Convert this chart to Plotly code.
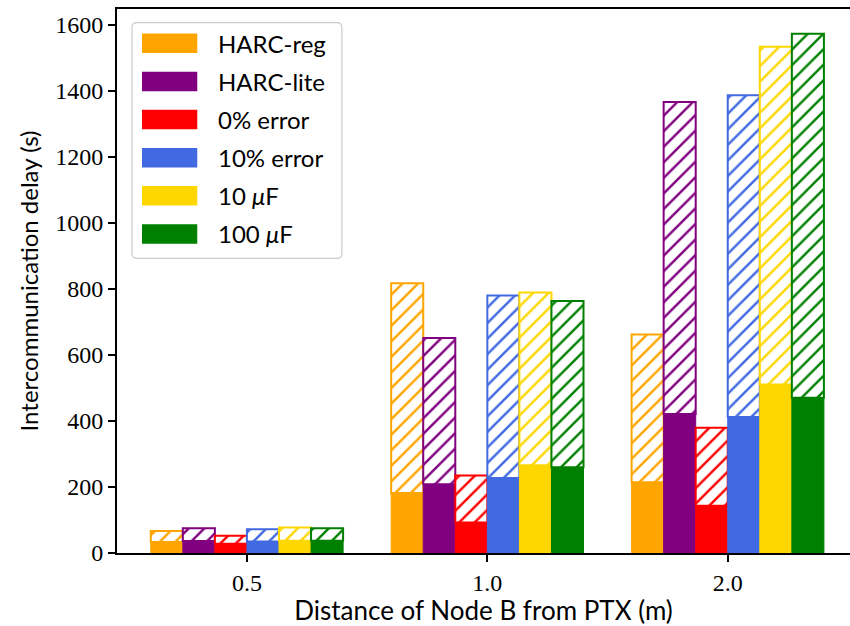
import plotly.graph_objects as go

categories = ["0.5", "1.0", "2.0"]
series_names = ["HARC-reg", "HARC-lite", "0% error", "10% error", "10 <i>μ</i>F", "100 <i>μ</i>F"]
colors = ["orange", "purple", "red", "royalblue", "gold", "green"]

# lower (solid) part of each bar
solid_values = [
    [33, 182, 214],
    [36, 208, 421],
    [28, 92, 143],
    [35, 227, 412],
    [37, 266, 510],
    [37, 260, 470],
]
# total height of each bar (top of hatched part)
total_values = [
    [67, 817, 662],
    [75, 651, 1366],
    [52, 235, 379],
    [72, 780, 1386],
    [77, 789, 1533],
    [75, 763, 1573],
]

y_ticks = [0, 200, 400, 600, 800, 1000, 1200, 1400, 1600]

fig = go.Figure()
for i, name in enumerate(series_names):
    c = colors[i]
    solid = solid_values[i]
    total = total_values[i]
    hatched = [t - s for t, s in zip(total, solid)]
    fig.add_trace(go.Bar(
        x=categories, y=solid, name=name, offsetgroup=str(i),
        marker=dict(color=c, line=dict(color=c, width=1)),
        showlegend=False,
    ))
    fig.add_trace(go.Bar(
        x=categories, y=hatched, base=solid, offsetgroup=str(i),
        marker=dict(
            color="white",
            line=dict(color=c, width=2),
            pattern=dict(shape="/", fgcolor=c, bgcolor="white", size=11,
                         solidity=0.22, fgopacity=1, fillmode="replace"),
        ),
        showlegend=False,
    ))

# manual legend (pixel -> paper coordinates of the plot area)
L, R_, T, B = 116.7, 850, 9, 552.7
W, H = R_ - L, B - T
def px(x):
    return (x - L) / W
def py(y):
    return (B - y) / H

x0, x1, y0, y1, r = 131.7, 341.7, 22.7, 258.3, 5
path = (f"M {px(x0 + r)},{py(y0)} L {px(x1 - r)},{py(y0)} Q {px(x1)},{py(y0)} {px(x1)},{py(y0 + r)} "
        f"L {px(x1)},{py(y1 - r)} Q {px(x1)},{py(y1)} {px(x1 - r)},{py(y1)} "
        f"L {px(x0 + r)},{py(y1)} Q {px(x0)},{py(y1)} {px(x0)},{py(y1 - r)} "
        f"L {px(x0)},{py(y0 + r)} Q {px(x0)},{py(y0)} {px(x0 + r)},{py(y0)} Z")
shapes = [dict(type="path", xref="paper", yref="paper", path=path,
               line=dict(color="#cccccc", width=1.2), fillcolor="rgba(255,255,255,0.8)")]
annotations = []
for i, name in enumerate(series_names):
    yc = 43.3 + 38.1 * i
    shapes.append(dict(type="rect", xref="paper", yref="paper",
                       x0=px(141.7), x1=px(197), y0=py(yc - 9.7), y1=py(yc + 9.7),
                       fillcolor=colors[i], line=dict(width=0)))
    annotations.append(dict(xref="paper", yref="paper", x=px(216), y=py(yc),
                            text=name, showarrow=False, xanchor="left", yanchor="middle",
                            font=dict(family="Lato, DejaVu Sans, sans-serif", size=24, color="black")))

fig.update_layout(
    width=850, height=626,
    margin=dict(l=117, r=0, t=9, b=73),
    paper_bgcolor="white", plot_bgcolor="white",
    barmode="group", bargap=0.2, bargroupgap=0,
    showlegend=False,
    shapes=shapes, annotations=annotations,
)
fig.update_xaxes(
    type="category", range=[-0.5405, 2.5085],
    showline=True, linecolor="black", linewidth=1.8, mirror=True,
    ticks="outside", ticklen=7, tickwidth=1.8, tickcolor="black",
    tickfont=dict(family="Liberation Serif, serif", size=24, color="black"),
    title=dict(text="Distance of Node B from PTX (m)",
               font=dict(family="Lato, DejaVu Sans, sans-serif", size=26, color="black"), standoff=8),
    showgrid=False,
)
fig.update_yaxes(
    range=[0, 1647.6], tickvals=y_ticks,
    showline=True, linecolor="black", linewidth=1.8, mirror=False,
    ticks="outside", ticklen=7, tickwidth=1.8, tickcolor="black",
    tickfont=dict(family="Liberation Serif, serif", size=24, color="black"),
    title=dict(text="Intercommunication delay (s)",
               font=dict(family="Lato, DejaVu Sans, sans-serif", size=24, color="black"), standoff=10),
    showgrid=False, zeroline=False,
)
fig.write_html("out.html")
